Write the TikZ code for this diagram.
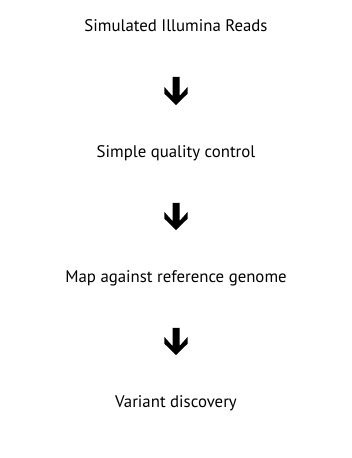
\documentclass[tikz,border=0pt]{standalone}
\usepackage{fontspec}
\setmainfont{PT Sans}
\usetikzlibrary{calc}

\begin{document}
\begin{tikzpicture}[x=1pt, y=1pt]
		\tikzstyle{Step}	= [anchor=base, inner sep=0pt, font=\fontsize{16.8}{20}\selectfont]
		\tikzstyle{Flow}	= [fill=black, to path={let \p1=(\tikztostart), \p2=(\tikztotarget) in
			(\x1-3.5pt, \y1-45pt) -- (\x1+3.5pt, \y1-45pt)
			-- (\x1+3.5pt, \y2+62pt) -- (\x1+11.6pt, \y2+71pt)
			-- (\x1+11.6pt, \y2+64.3pt) -- (\x1, \y2+53pt)
			-- (\x1-11.6pt, \y2+64.3pt) -- (\x1-11.6pt, \y2+71pt)
			-- (\x1-3.5pt, \y2+62pt) -- cycle}]
		
		\useasboundingbox (0, 0) rectangle (352, 458);
		
		\node (sim) at (176, 426) [Step] {Simulated Illumina Reads};
		\node (qc) at (176, 300) [Step] {Simple quality control};
		\node (map) at (176, 175) [Step] {Map against reference genome};
		\node (var) at (176, 50) [Step] {Variant discovery};
		
		\path [Flow] (sim.base) to (qc.base);
		\path [Flow] (qc.base) to (map.base);
		\path [Flow] (map.base) to (var.base);
	\end{tikzpicture}
\end{document}
